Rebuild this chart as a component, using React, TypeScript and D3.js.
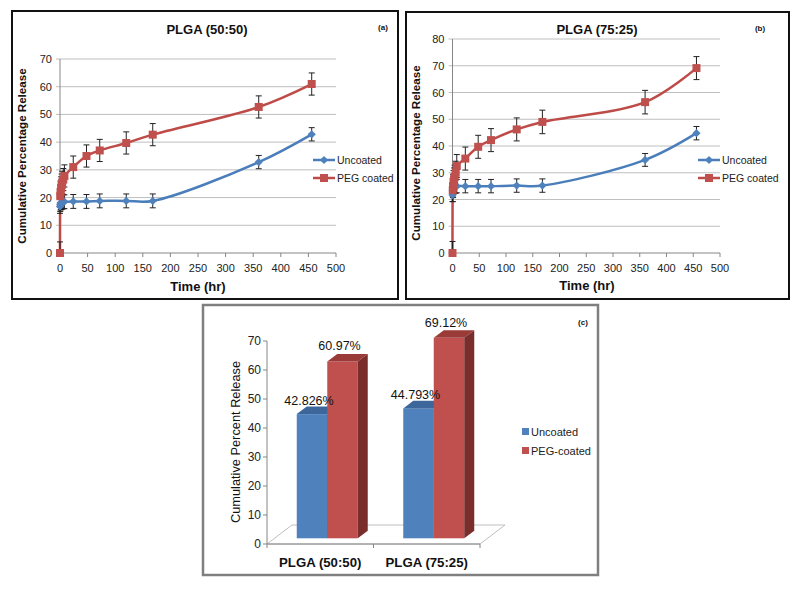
import React from 'react';
import * as d3 from 'd3';

const FONT = "'Liberation Sans', Arial, Helvetica, sans-serif";

// Release time points (hours)
const times = [0, 0.5, 1, 2, 3, 4, 6, 8, 24, 48, 72, 120, 168, 360, 456];

// Panel (a) PLGA (50:50)
const uncoatedA = [16.8, 17.5, 18.0, 18.2, 18.3, 18.4, 18.5, 18.5, 18.6, 18.6, 18.8, 18.8, 18.8, 32.8, 42.826];
const uncoatedErrA = [2.5, 2.5, 2.5, 2.5, 2.5, 2.5, 2.5, 2.5, 2.5, 2.5, 2.5, 2.5, 2.5, 2.4, 2.4];
const pegA = [0, 20.5, 22.0, 23.5, 24.5, 25.5, 26.5, 27.8, 31.0, 35.0, 37.0, 39.7, 42.7, 52.7, 60.97];
const pegErrA = [4, 4, 4, 4, 4, 4, 4, 4, 4, 4, 4, 4, 4, 4, 4];

// Panel (b) PLGA (75:25)
const uncoatedB = [21.7, 23.5, 24.3, 24.6, 24.7, 24.8, 24.9, 25.0, 25.0, 25.0, 25.0, 25.2, 25.2, 34.8, 44.793];
const uncoatedErrB = [2.5, 2.5, 2.5, 2.5, 2.5, 2.5, 2.5, 2.5, 2.5, 2.5, 2.5, 2.5, 2.5, 2.4, 2.5];
const pegB = [0, 23.5, 25.0, 26.5, 27.5, 28.5, 30.0, 32.5, 35.3, 39.7, 42.2, 46.2, 49.0, 56.4, 69.12];
const pegErrB = [4.3, 4.3, 4.3, 4.3, 4.3, 4.3, 4.3, 4.3, 4.3, 4.3, 4.3, 4.3, 4.4, 4.4, 4.3];

// Panel (c) bar chart
const barCategories = ['PLGA (50:50)', 'PLGA (75:25)'];
const barUncoated = [42.826, 44.793];
const barPeg = [60.97, 69.12];
const barUncoatedLabels = ['42.826%', '44.793%'];
const barPegLabels = ['60.97%', '69.12%'];

const xTickValues = [0, 50, 100, 150, 200, 250, 300, 350, 400, 450, 500];

const BLUE = '#4F81BD';
const BLUE_LINE = '#4A7EBB';
const RED = '#C0504D';
const RED_LINE = '#BE4B48';

function LinePanel(props: any) {
  const { xr, yr, yMax, uncoated, peg, errU, errP, legendX, ylabel, xlabel, title, tag } = props;
  const x = d3.scaleLinear().domain([0, 500]).range(xr);
  const y = d3.scaleLinear().domain([0, yMax]).range(yr);
  const yTicks = d3.range(0, yMax + 1, 10);
  const line = d3
    .line<number>()
    .x((_d, i) => x(times[i]))
    .y((d) => y(d))
    .curve(d3.curveCatmullRom.alpha(0.5));
  const diamond = d3.symbol(d3.symbolSquare, 34)();
  const square = d3.symbol(d3.symbolSquare, 64)();
  const x0 = x(0);

  const errBars = (vals: number[], errs: number[], key: string) =>
    vals.map((v, i) => {
      const lo = y(Math.max(0, v - errs[i]));
      const hi = y(Math.min(yMax, v + errs[i]));
      const cx = x(times[i]);
      return (
        <g key={key + i} stroke="#222" strokeWidth={1}>
          <line x1={cx} x2={cx} y1={lo} y2={hi} />
          <line x1={cx - 3} x2={cx + 3} y1={hi} y2={hi} />
          {v - errs[i] > 0 && <line x1={cx - 3} x2={cx + 3} y1={lo} y2={lo} />}
        </g>
      );
    });

  return (
    <g fontFamily={FONT}>
      {yTicks.map((t) => (
        <g key={'g' + t}>
          <line x1={x0 - 4} x2={xr[1]} y1={y(t)} y2={y(t)} stroke={t === 0 ? '#868686' : '#BFBFBF'} strokeWidth={1} />
          <text x={x0 - 8} y={y(t)} textAnchor="end" dominantBaseline="central" fontSize={11} fill="#222">
            {t}
          </text>
        </g>
      ))}
      <line x1={x0} x2={x0} y1={yr[0]} y2={yr[1]} stroke="#868686" strokeWidth={1} />
      {xTickValues.map((t) => (
        <g key={'x' + t}>
          <line x1={x(t)} x2={x(t)} y1={yr[0]} y2={yr[0] + 4} stroke="#868686" />
          <text x={x(t)} y={yr[0] + 15} textAnchor="middle" dominantBaseline="central" fontSize={11} fill="#222">
            {t}
          </text>
        </g>
      ))}
      <path d={line(uncoated) || ''} fill="none" stroke={BLUE_LINE} strokeWidth={2.5} />
      <path d={line(peg) || ''} fill="none" stroke={RED_LINE} strokeWidth={2.5} />
      {errBars(uncoated, errU, 'eu')}
      {errBars(peg, errP, 'ep')}
      {uncoated.map((v, i) => (
        <path key={'mu' + i} d={diamond || ''} transform={`translate(${x(times[i])},${y(v)}) rotate(45)`} fill={BLUE} />
      ))}
      {peg.map((v, i) => (
        <path key={'mp' + i} d={square || ''} transform={`translate(${x(times[i])},${y(v)})`} fill={RED} />
      ))}
      {/* legend */}
      <line x1={legendX} x2={legendX + 22} y1={160} y2={160} stroke={BLUE_LINE} strokeWidth={2.5} />
      <path d={diamond || ''} transform={`translate(${legendX + 11},160) rotate(45)`} fill={BLUE} />
      <text x={legendX + 24} y={160} dominantBaseline="central" fontSize={10.5} fill="#222">Uncoated</text>
      <line x1={legendX} x2={legendX + 22} y1={178} y2={178} stroke={RED_LINE} strokeWidth={2.5} />
      <path d={square || ''} transform={`translate(${legendX + 11},178)`} fill={RED} />
      <text x={legendX + 24} y={178} dominantBaseline="central" fontSize={10.5} fill="#222">PEG coated</text>
      {/* titles */}
      <text x={title[0]} y={title[1]} textAnchor="middle" dominantBaseline="central" fontSize={13} fontWeight="bold" fill="#111">
        {title[2]}
      </text>
      <text x={tag[0]} y={tag[1]} textAnchor="middle" dominantBaseline="central" fontSize={8} fontWeight="bold" fill="#111">
        {tag[2]}
      </text>
      <text
        transform={`translate(${ylabel[0]},${ylabel[1]}) rotate(-90)`}
        textAnchor="middle"
        dominantBaseline="central"
        fontSize={11.6}
        fontWeight="bold"
        fill="#111"
      >
        Cumulative Percentage Release
      </text>
      <text x={xlabel[0]} y={xlabel[1]} textAnchor="middle" dominantBaseline="central" fontSize={13} fontWeight="bold" fill="#111">
        Time (hr)
      </text>
    </g>
  );
}

function BarPanel() {
  // floor geometry
  const frontY = 544;
  const xAxis = d3.scaleBand<string>().domain(barCategories).range([267, 480]);
  const y = d3.scaleLinear().domain([0, 70]).range([544, 341]);
  const depth = [25, -19];
  const barStart = 0.3;
  const barDepth = 0.4;
  const barW = 30.5;
  const yTicks = d3.range(0, 71, 10);

  const box3d = (xl: number, v: number, front: string, top: string, side: string, key: string) => {
    const ox = depth[0] * barStart;
    const oy = depth[1] * barStart;
    const dx = depth[0] * barDepth;
    const dy = depth[1] * barDepth;
    const left = xl + ox;
    const right = left + barW;
    const bottom = frontY + oy;
    const topY = y(v) + oy;
    return (
      <g key={key}>
        <rect x={left} y={topY} width={barW} height={bottom - topY} fill={front} />
        <polygon points={`${left},${topY} ${right},${topY} ${right + dx},${topY + dy} ${left + dx},${topY + dy}`} fill={top} />
        <polygon points={`${right},${topY} ${right + dx},${topY + dy} ${right + dx},${bottom + dy} ${right},${bottom}`} fill={side} />
      </g>
    );
  };

  const x0 = 267;
  const x1 = 480;
  return (
    <g fontFamily={FONT}>
      <polygon
        points={`${x0},${frontY} ${x1},${frontY} ${x1 + depth[0]},${frontY + depth[1]} ${x0 + depth[0]},${frontY + depth[1]}`}
        fill="none"
        stroke="#BFBFBF"
        strokeWidth={1}
      />
      <line x1={x0} x2={x1} y1={frontY} y2={frontY} stroke="#868686" />
      <line x1={x0} x2={x0} y1={y(0)} y2={y(70)} stroke="#868686" />
      {yTicks.map((t) => (
        <g key={'t' + t}>
          <line x1={x0 - 4} x2={x0} y1={y(t)} y2={y(t)} stroke="#868686" />
          <text x={x0 - 6} y={y(t)} textAnchor="end" dominantBaseline="central" fontSize={12} fill="#222">
            {t}
          </text>
        </g>
      ))}
      {[x0, ...barCategories.map((c) => (xAxis(c) as number) + xAxis.bandwidth())].map((tx, i) => (
        <line key={'xt' + i} x1={tx} x2={tx} y1={frontY} y2={frontY + 4} stroke="#868686" />
      ))}
      {barCategories.map((c, i) => {
        const bx = xAxis(c) as number;
        const xl = bx + xAxis.bandwidth() / 2 - barW - 0.5;
        return (
          <g key={c}>
            {box3d(xl, barUncoated[i], BLUE, '#3D679A', '#2F5582', 'u' + i)}
            {box3d(xl + barW, barPeg[i], RED, '#9B3B38', '#7A2E2C', 'p' + i)}
            <text x={xl + depth[0] * barStart + barW / 2 - 3} y={y(barUncoated[i]) - 19} textAnchor="middle" dominantBaseline="central" fontSize={12.5} fill="#111">
              {barUncoatedLabels[i]}
            </text>
            <text x={xl + barW + depth[0] * barStart + barW / 2 - 3} y={y(barPeg[i]) - 21} textAnchor="middle" dominantBaseline="central" fontSize={12.5} fill="#111">
              {barPegLabels[i]}
            </text>
            <text x={bx + xAxis.bandwidth() / 2} y={562} textAnchor="middle" dominantBaseline="central" fontSize={13.2} fontWeight="bold" fill="#111">
              {c}
            </text>
          </g>
        );
      })}
      <text transform="translate(235,442) rotate(-90)" textAnchor="middle" dominantBaseline="central" fontSize={12.8} fill="#111">
        Cumulative Percent Release
      </text>
      <rect x={522} y={428} width={7} height={7} fill={BLUE} />
      <text x={531} y={432} dominantBaseline="central" fontSize={11} fill="#222">Uncoated</text>
      <rect x={522} y={447} width={7} height={7} fill={RED} />
      <text x={531} y={451} dominantBaseline="central" fontSize={11} fill="#222">PEG-coated</text>
      <text x={583} y={322} textAnchor="middle" dominantBaseline="central" fontSize={8} fontWeight="bold" fill="#111">(c)</text>
    </g>
  );
}

export default function App() {
  return (
    <svg
      width={800}
      height={600}
      style={{ position: 'absolute', left: 0, top: 0, background: '#fff' }}
      xmlns="http://www.w3.org/2000/svg"
    >
      <rect x={0} y={0} width={800} height={600} fill="#fff" />
      <rect x={12} y={11} width={386} height={288} fill="none" stroke="#111" strokeWidth={2} />
      <rect x={406} y={12} width={383} height={287} fill="none" stroke="#111" strokeWidth={2} />
      <rect x={203} y={305} width={395} height={270} fill="none" stroke="#7F7F7F" strokeWidth={2.5} />
      <LinePanel
        xr={[60, 336]}
        yr={[253, 59]}
        yMax={70}
        uncoated={uncoatedA}
        peg={pegA}
        errU={uncoatedErrA}
        errP={pegErrA}
        legendX={313}
        ylabel={[21, 156]}
        xlabel={[198, 286]}
        title={[207, 29, 'PLGA (50:50)']}
        tag={[383, 27, '(a)']}
      />
      <LinePanel
        xr={[452.5, 720]}
        yr={[253, 39]}
        yMax={80}
        uncoated={uncoatedB}
        peg={pegB}
        errU={uncoatedErrB}
        errP={pegErrB}
        legendX={698}
        ylabel={[415, 153]}
        xlabel={[587, 285]}
        title={[597, 29, 'PLGA (75:25)']}
        tag={[760, 28, '(b)']}
      />
      <BarPanel />
    </svg>
  );
}
